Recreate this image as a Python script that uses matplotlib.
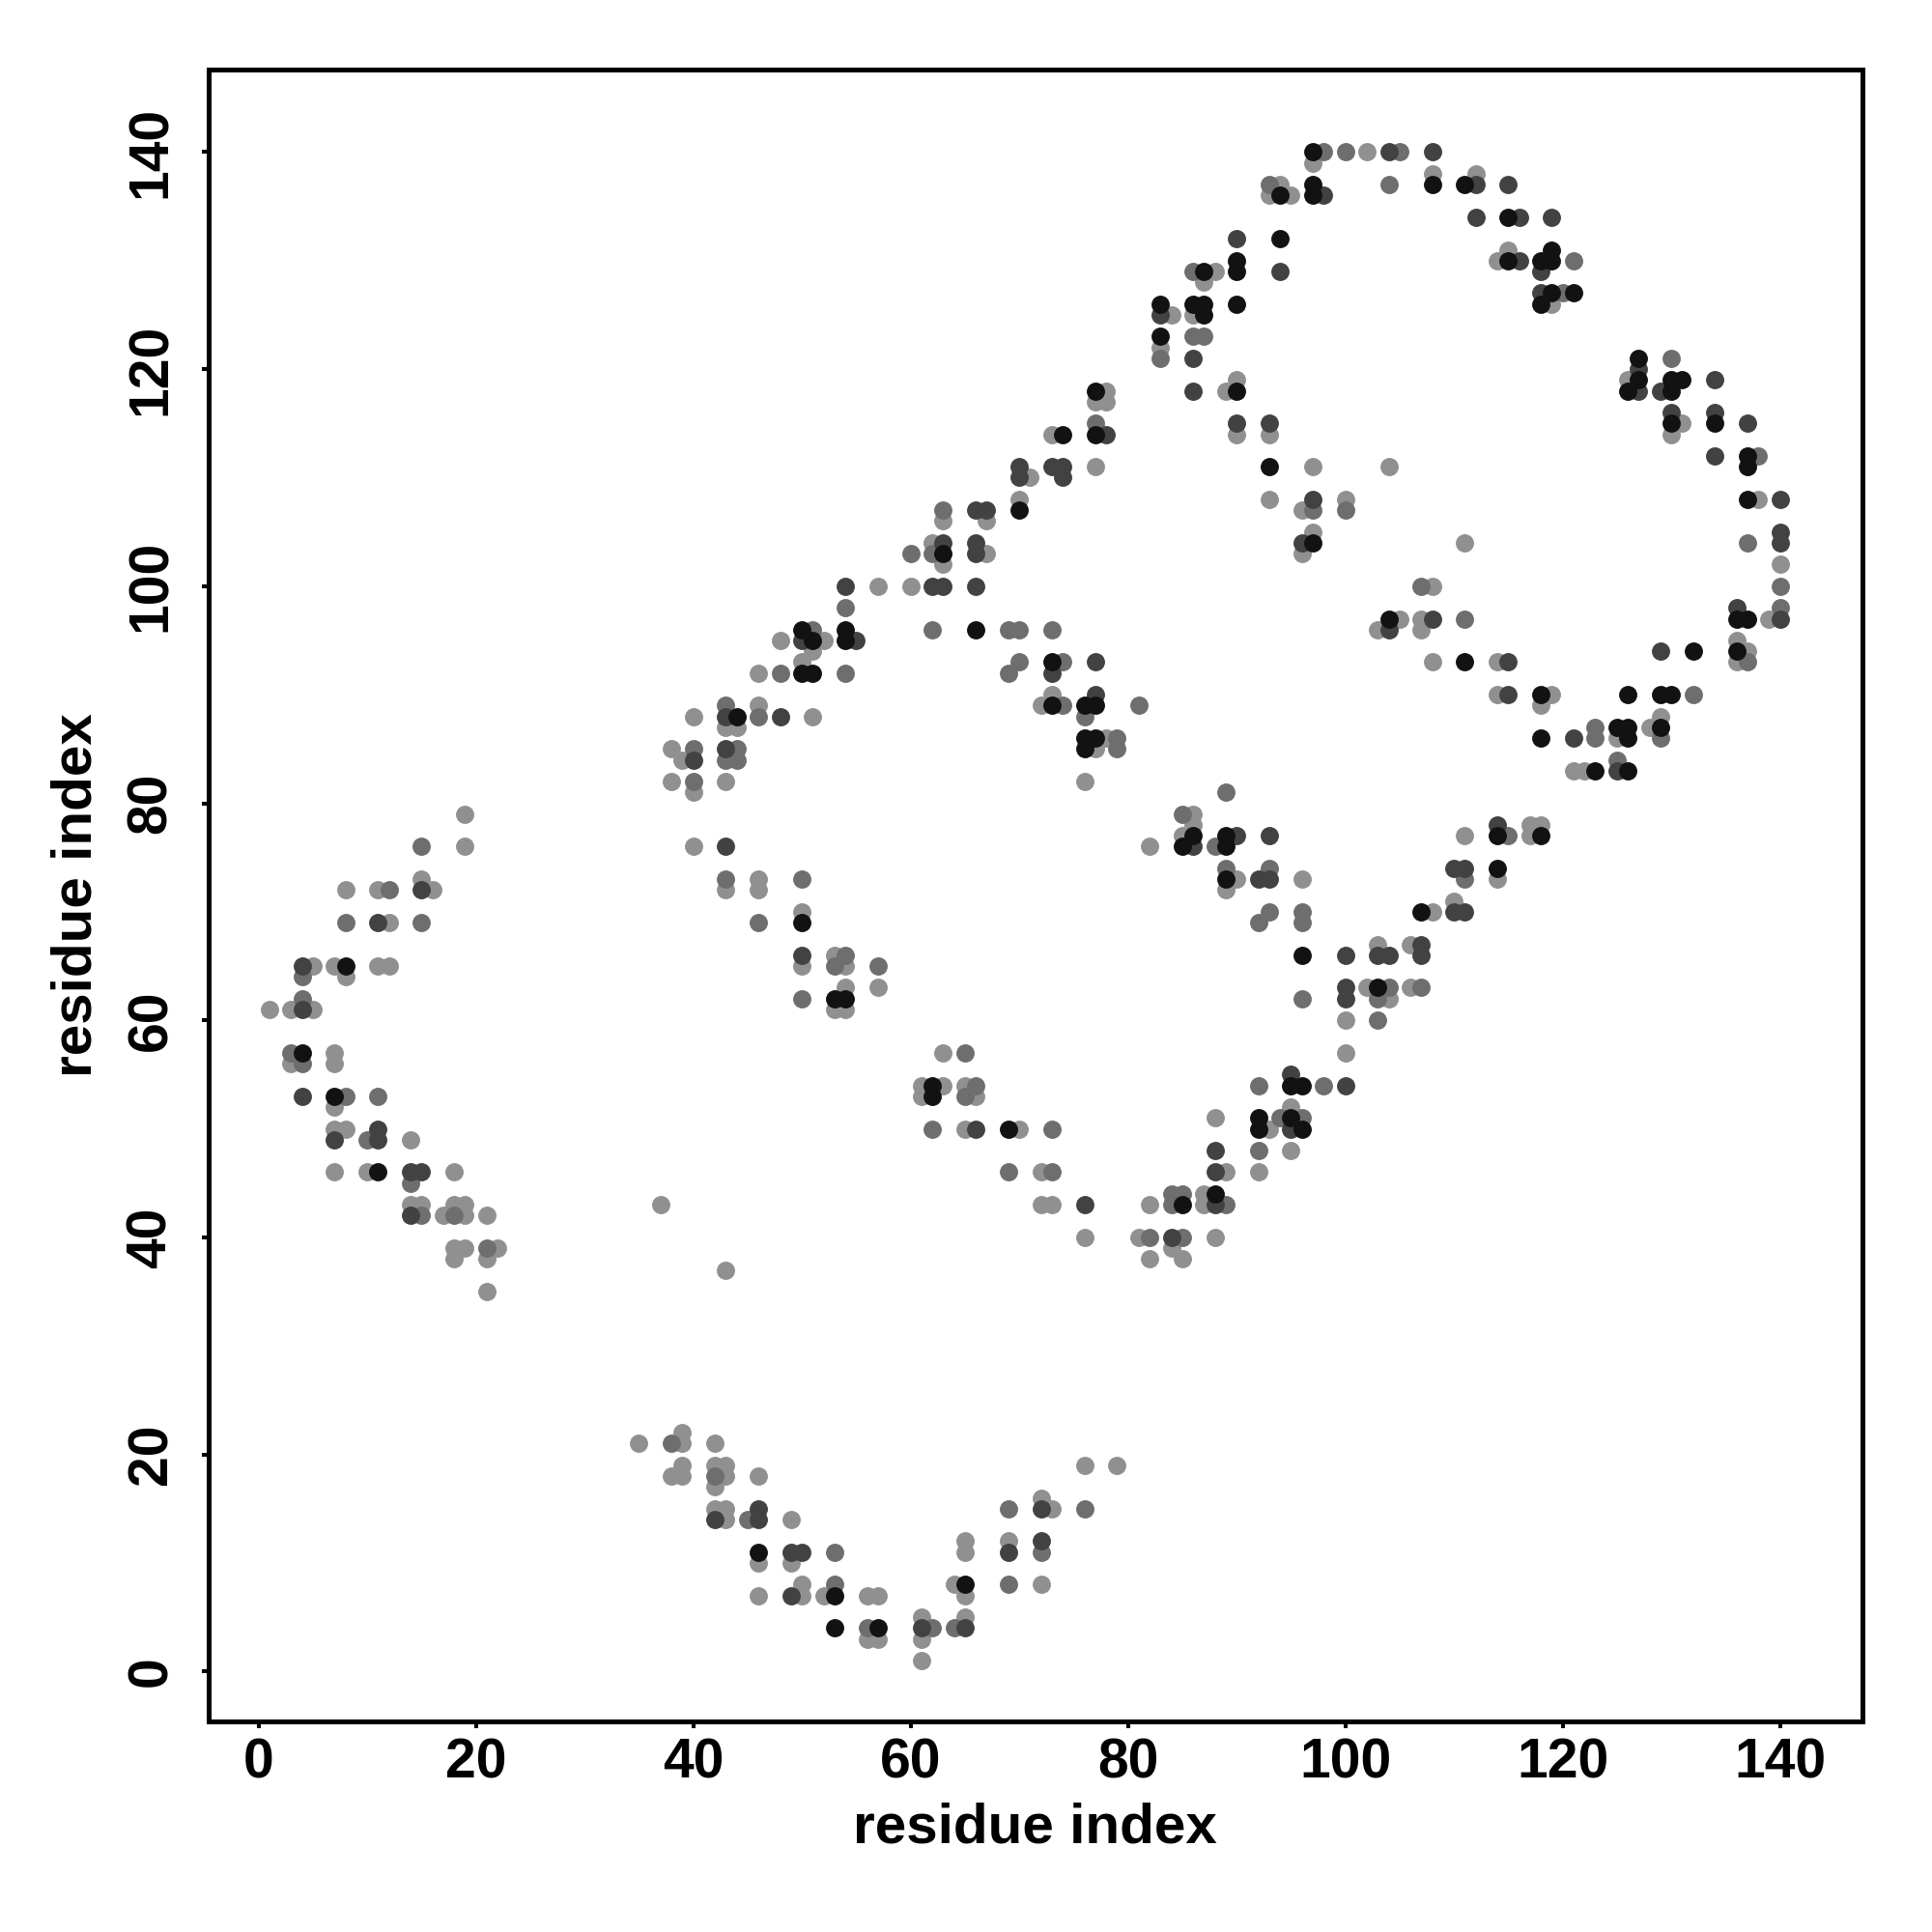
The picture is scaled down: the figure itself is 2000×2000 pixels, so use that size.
import matplotlib
import matplotlib.pyplot as plt

matplotlib.use("Agg")

# contact pairs (i, j), grouped by shade
light = [(19, 79), (19, 76), (8, 72), (11, 72), (15, 73), (16, 72), (12, 69), (5, 65), (7, 65), (8, 64),
         (11, 65), (12, 65), (1, 61), (3, 61), (5, 61), (7, 57), (3, 56), (7, 56), (7, 52), (7, 50),
         (8, 50), (14, 49), (7, 46), (10, 46), (18, 46), (14, 43), (15, 43), (18, 43), (19, 43), (17, 42),
         (19, 42), (21, 42), (18, 39), (19, 39), (22, 39), (18, 38), (21, 38), (21, 35),
         (35, 21), (39, 21), (39, 22), (42, 21), (39, 19), (42, 19), (43, 19), (76, 19), (79, 19), (38, 18),
         (39, 18), (43, 18), (46, 18), (42, 17), (42, 15), (43, 15), (72, 16), (73, 15), (43, 14), (49, 14),
         (65, 12), (69, 12), (65, 11), (46, 10), (49, 10), (50, 8), (64, 8), (72, 8), (46, 7), (50, 7),
         (52, 7), (56, 7), (57, 7), (65, 7), (61, 5), (65, 5), (56, 3), (57, 3), (61, 3), (61, 1),
         (43, 72), (46, 73), (46, 72), (50, 70), (50, 65), (53, 66), (54, 65), (54, 63), (57, 63), (53, 61),
         (54, 61), (63, 57), (61, 54), (63, 54), (65, 54), (61, 53), (66, 53), (65, 50), (70, 50), (72, 46),
         (37, 43), (72, 43), (43, 37),
         (73, 43), (76, 40), (81, 40), (82, 38), (82, 43), (84, 39), (85, 38), (87, 44), (87, 43), (88, 40),
         (89, 46), (88, 51), (92, 46), (93, 50), (95, 52), (95, 48), (100, 57), (100, 60), (102, 63),
         (104, 62), (106, 63), (103, 67), (106, 67), (89, 72), (96, 73), (90, 73),
         (38, 85), (39, 84), (38, 82), (40, 81), (43, 82), (40, 88), (43, 87), (44, 87), (46, 89), (51, 88),
         (46, 92), (50, 93), (51, 94), (48, 95), (52, 95), (57, 100), (60, 100), (72, 89), (62, 104),
         (63, 102), (67, 103), (63, 106), (67, 106), (40, 76),
         (73, 90), (78, 86), (77, 85), (76, 82), (96, 107), (97, 105), (96, 103), (103, 96), (105, 97),
         (107, 97), (107, 96), (86, 79), (85, 77), (86, 78), (82, 76),
         (111, 104), (108, 100), (108, 93), (114, 93), (114, 90), (119, 90), (118, 89), (125, 86), (128, 87),
         (129, 88), (121, 83), (122, 83), (136, 95), (137, 94), (136, 93), (139, 97), (140, 102), (111, 77),
         (117, 78), (118, 78), (117, 77), (114, 73), (110, 71), (108, 70),
         (102, 140), (97, 139), (94, 137), (93, 136), (95, 136), (88, 129), (87, 128), (84, 125), (86, 125),
         (83, 122), (89, 118), (90, 119), (90, 114), (93, 114), (97, 111), (104, 111), (93, 108), (100, 108),
         (73, 114), (78, 118), (77, 117), (78, 117), (77, 111), (71, 110), (70, 108),
         (108, 138), (112, 138), (114, 130), (115, 131), (119, 126), (126, 119), (131, 115), (130, 114),
         (138, 108)]

mid = [(15, 76), (12, 72), (8, 69), (15, 69), (4, 64), (4, 62), (3, 57), (4, 56), (8, 53), (11, 53),
       (10, 49), (14, 45), (15, 42), (18, 42), (21, 39),
       (38, 21), (42, 18), (69, 15), (76, 15), (45, 14), (53, 11), (72, 11), (53, 8), (69, 8), (56, 4),
       (62, 4), (64, 4),
       (43, 73), (50, 73), (46, 69), (54, 66), (53, 65), (57, 65), (50, 62), (65, 57), (66, 54), (65, 53),
       (62, 50), (69, 46),
       (73, 50), (73, 46), (82, 40), (84, 44), (85, 44), (84, 43), (85, 40), (89, 43), (92, 48), (94, 51),
       (96, 51), (92, 54), (98, 54), (103, 60), (104, 63), (103, 62), (107, 63), (96, 62), (96, 70),
       (96, 69), (93, 70), (92, 69),
       (40, 85), (40, 82), (44, 85), (43, 84), (44, 84), (43, 89), (46, 88), (48, 92), (54, 92), (51, 96),
       (54, 98), (62, 96), (69, 96), (70, 96), (70, 93), (69, 92), (60, 103), (62, 103), (63, 107),
       (73, 96), (74, 93), (74, 89), (76, 88), (81, 89), (79, 86), (79, 85), (97, 107), (100, 107),
       (89, 81), (85, 79), (88, 76), (89, 74), (93, 74),
       (107, 100), (111, 97), (123, 87), (123, 86), (129, 86), (125, 84), (132, 90), (137, 93), (140, 98),
       (137, 104), (140, 100), (115, 77), (111, 73),
       (98, 140), (100, 140), (105, 140), (93, 137), (104, 137), (86, 129), (83, 121), (86, 123), (87, 123),
       (77, 115),
       (121, 130), (120, 127), (130, 121), (138, 112)]

dark = [(15, 72), (11, 69), (4, 65), (4, 61), (4, 53), (11, 50), (7, 49), (11, 49), (14, 46), (15, 46),
        (14, 42),
        (46, 15), (72, 15), (42, 14), (46, 14), (72, 12), (49, 11), (50, 11), (69, 11), (49, 7), (61, 4),
        (65, 4),
        (50, 66), (66, 50),
        (76, 43), (88, 43), (84, 40), (88, 46), (88, 48), (95, 50), (95, 55), (100, 54), (100, 63),
        (100, 62), (100, 66), (103, 66), (104, 66), (107, 67), (107, 66), (92, 73), (93, 73),
        (40, 84), (43, 85), (43, 88), (48, 88), (50, 95), (55, 95), (54, 100), (62, 100), (63, 100),
        (66, 100), (63, 104), (66, 104), (66, 103), (66, 107), (67, 107), (43, 76),
        (77, 93), (73, 92), (77, 90), (96, 104), (104, 96), (86, 76), (90, 77), (93, 77),
        (108, 97), (115, 93), (115, 90), (121, 86), (125, 83), (129, 94), (136, 98), (140, 97), (140, 105),
        (140, 104), (114, 78), (110, 74), (111, 74), (110, 70), (111, 70),
        (104, 140), (98, 136), (90, 132), (94, 129), (83, 125), (86, 121), (86, 118), (90, 115), (93, 115),
        (97, 108), (78, 114), (73, 111), (74, 111), (74, 110), (70, 111), (70, 110),
        (108, 140), (112, 137), (115, 137), (112, 134), (116, 134), (119, 134), (116, 130), (118, 129),
        (118, 127), (127, 120), (134, 119), (127, 118), (129, 118), (130, 116), (134, 116), (137, 115),
        (134, 112), (140, 108)]

black = [(8, 65), (4, 57), (7, 53), (11, 46),
         (46, 11), (65, 8), (53, 7), (53, 4), (57, 4),
         (50, 69), (53, 62), (54, 62), (62, 54), (62, 53), (69, 50),
         (85, 43), (88, 44), (92, 51), (92, 50), (95, 51), (96, 50), (95, 54), (96, 54), (103, 63),
         (96, 66), (89, 73), (107, 70),
         (44, 88), (50, 92), (51, 92), (50, 96), (51, 95), (54, 96), (54, 95), (66, 96), (63, 103),
         (70, 107),
         (73, 93), (73, 89), (76, 89), (77, 89), (76, 86), (77, 86), (76, 85), (97, 104), (104, 97),
         (86, 77), (85, 76), (89, 77), (89, 76),
         (111, 93), (118, 90), (118, 86), (125, 87), (126, 87), (126, 86), (129, 87), (123, 83), (126, 83),
         (126, 90), (129, 90), (130, 90), (132, 94), (136, 94), (136, 97), (137, 97), (114, 77), (118, 77),
         (114, 74),
         (97, 140), (94, 136), (97, 137), (97, 136), (94, 132), (90, 130), (90, 129), (87, 129), (83, 126),
         (86, 126), (87, 126), (87, 125), (90, 126), (83, 123), (90, 118), (93, 111), (74, 114), (77, 118),
         (77, 114),
         (108, 137), (111, 137), (115, 134), (115, 130), (118, 130), (119, 131), (119, 130), (119, 127),
         (121, 127), (118, 126), (127, 121), (127, 119), (130, 119), (131, 119), (126, 118), (130, 118),
         (130, 115), (134, 115), (137, 112), (137, 111), (137, 108)]

shades = [("#909090", light), ("#6e6e6e", mid), ("#424242", dark), ("#121212", black)]
ticks = [0, 20, 40, 60, 80, 100, 120, 140]
axis_label = "residue index"

plt.rcParams["font.family"] = ["Liberation Sans", "DejaVu Sans"]
plt.rcParams["font.weight"] = "bold"

fig = plt.figure(figsize=(20, 20), dpi=100)
ax = fig.add_axes([0.108, 0.109, 0.856, 0.855])

for colour, pairs in shades:
    xs = [p[0] for p in pairs]
    ys = [p[1] for p in pairs]
    ax.scatter(xs, ys, s=185, c=colour, linewidths=0, zorder=2)

ax.set_xlim(-4.6, 147.6)
ax.set_ylim(-4.6, 147.6)
ax.set_xticks(ticks)
ax.set_yticks(ticks)
ax.set_xticklabels([str(t) for t in ticks], fontsize=41, fontweight="bold")
ax.set_yticklabels([str(t) for t in ticks], fontsize=41, fontweight="bold",
                   rotation=90, va="center")
ax.tick_params(axis="both", length=5, width=2.9, direction="out")
ax.tick_params(axis="x", pad=7)
ax.tick_params(axis="y", pad=18)
for sp in ax.spines.values():
    sp.set_linewidth(3.6)

fig.text(0.5355, 0.054, axis_label, ha="center", va="center", fontsize=42, fontweight="bold")
fig.text(0.040, 0.5365, axis_label, ha="center", va="center", rotation=90,
         fontsize=42, fontweight="bold")

plt.savefig("out.png", dpi=100)
